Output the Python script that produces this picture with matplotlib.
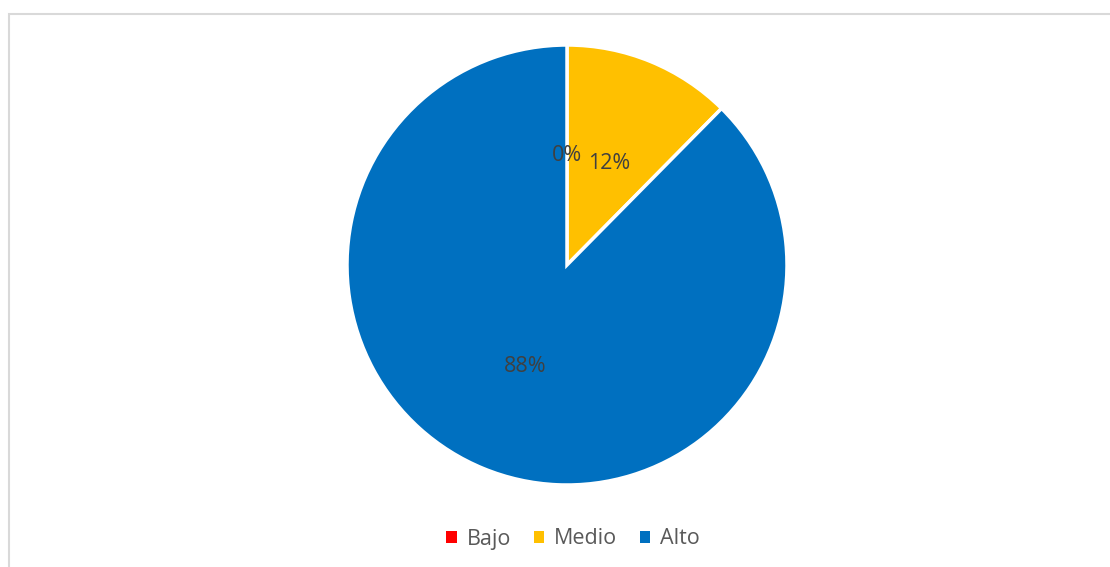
import matplotlib
matplotlib.use("Agg")
import matplotlib.pyplot as plt
from matplotlib.patches import Rectangle

categories = ["Bajo", "Medio", "Alto"]
values = [0, 12.4, 87.6]
colors = ["#FF0000", "#FFC000", "#0070C0"]

W, H = 1110, 567
fig = plt.figure(figsize=(W / 100, H / 100), dpi=100)
fig.patch.set_facecolor("white")

# chart frame (only top/left visible in reference)
fig.add_artist(Rectangle((9 / W, -0.1), 1.2, (H - 14) / H + 0.1, transform=fig.transFigure,
                         fill=False, edgecolor="#D9D9D9", linewidth=1.5))

cx, cy, r = 567, 265, 220
ax = fig.add_axes([(cx - r) / W, (H - cy - r) / H, 2 * r / W, 2 * r / H])
wedges, texts, autotexts = ax.pie(
    values, colors=colors, startangle=90, counterclock=False,
    autopct="%.0f%%", pctdistance=0.5, radius=1,
    wedgeprops=dict(edgecolor="white", linewidth=2.5),
    textprops=dict(color="#404040", fontsize=15.5, family="Open Sans"))
ax.set_xlim(-1, 1)
ax.set_ylim(-1, 1)
ax.set_aspect("equal")
ax.axis("off")

leg = fig.legend(wedges, categories, loc="center", bbox_to_anchor=(573 / W, 1 - 539 / H),
                 ncol=3, frameon=False, handlelength=0.5, handleheight=0.5,
                 handletextpad=0.45, columnspacing=1.05,
                 prop=dict(family="Open Sans", size=15.5))
for t in leg.get_texts():
    t.set_color("#595959")
for h in leg.legend_handles:
    h.set_linewidth(0)

fig.savefig("out.png", dpi=100)
